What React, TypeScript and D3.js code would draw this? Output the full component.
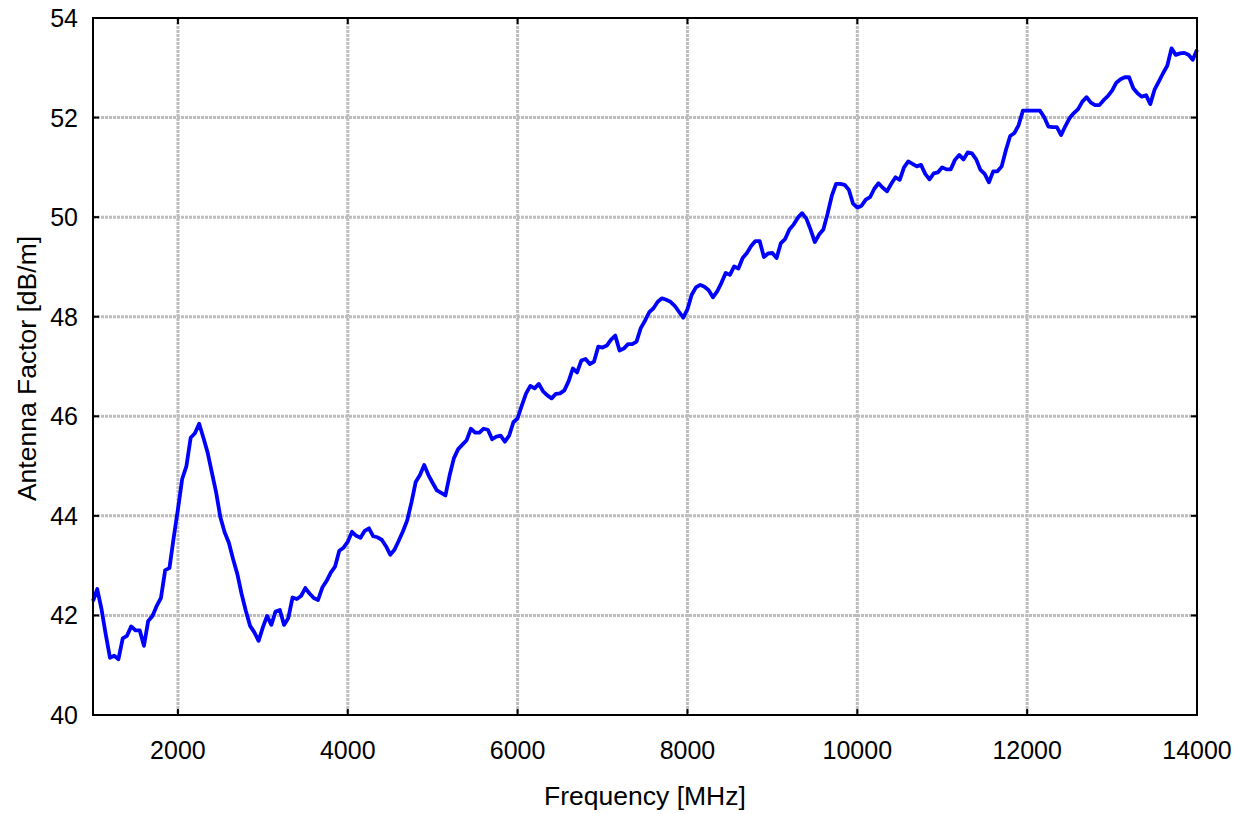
import { FC, useRef, useEffect } from 'react'
import * as d3 from 'd3'

// measured antenna factor, sampled every 50 MHz from 1000 to 14000 MHz
const freqStart = 1000
const freqStep = 50

const antennaFactor = [
  42.29, 42.53, 42.13, 41.62, 41.15, 41.19, 41.12, 41.54, 41.59, 41.78,
  41.70, 41.70, 41.39, 41.89, 41.99, 42.19, 42.35, 42.91, 42.95, 43.56,
  44.13, 44.74, 45.00, 45.57, 45.66, 45.85, 45.57, 45.27, 44.87, 44.47,
  43.97, 43.67, 43.46, 43.13, 42.83, 42.43, 42.09, 41.79, 41.66, 41.49,
  41.76, 41.99, 41.81, 42.08, 42.11, 41.81, 41.95, 42.36, 42.33, 42.39,
  42.55, 42.44, 42.35, 42.31, 42.56, 42.69, 42.86, 42.98, 43.30, 43.36,
  43.48, 43.68, 43.60, 43.56, 43.70, 43.75, 43.59, 43.57, 43.52, 43.39,
  43.22, 43.32, 43.50, 43.69, 43.91, 44.27, 44.68, 44.82, 45.02, 44.82,
  44.66, 44.51, 44.46, 44.41, 44.82, 45.16, 45.34, 45.43, 45.52, 45.75,
  45.67, 45.67, 45.75, 45.73, 45.54, 45.59, 45.61, 45.49, 45.61, 45.88,
  45.96, 46.22, 46.46, 46.61, 46.56, 46.65, 46.50, 46.42, 46.36, 46.45,
  46.46, 46.52, 46.70, 46.96, 46.88, 47.12, 47.15, 47.05, 47.10, 47.40,
  47.38, 47.42, 47.54, 47.62, 47.32, 47.36, 47.45, 47.45, 47.50, 47.77,
  47.92, 48.09, 48.17, 48.30, 48.37, 48.34, 48.30, 48.22, 48.10, 47.98,
  48.15, 48.44, 48.59, 48.64, 48.60, 48.53, 48.39, 48.51, 48.68, 48.88,
  48.84, 49.01, 48.97, 49.18, 49.28, 49.42, 49.52, 49.52, 49.20, 49.27,
  49.28, 49.18, 49.48, 49.56, 49.75, 49.85, 49.99, 50.08, 49.97, 49.75,
  49.50, 49.65, 49.75, 50.07, 50.43, 50.67, 50.67, 50.65, 50.55, 50.27,
  50.19, 50.23, 50.35, 50.40, 50.57, 50.68, 50.59, 50.52, 50.67, 50.80,
  50.75, 51.00, 51.12, 51.07, 51.02, 51.05, 50.87, 50.76, 50.88, 50.90,
  51.00, 50.96, 50.96, 51.15, 51.25, 51.16, 51.30, 51.28, 51.16, 50.95,
  50.87, 50.70, 50.92, 50.92, 51.02, 51.35, 51.63, 51.69, 51.85, 52.14,
  52.14, 52.14, 52.14, 52.14, 52.01, 51.82, 51.81, 51.81, 51.65, 51.83,
  51.99, 52.09, 52.17, 52.32, 52.41, 52.30, 52.25, 52.25, 52.35, 52.43,
  52.54, 52.70, 52.77, 52.81, 52.81, 52.59, 52.49, 52.42, 52.45, 52.27,
  52.56, 52.72, 52.89, 53.04, 53.39, 53.26, 53.29, 53.30, 53.26, 53.16,
  53.36,
]

const xTicks = [2000, 4000, 6000, 8000, 10000, 12000, 14000]
const yTicks = [40, 42, 44, 46, 48, 50, 52, 54]

const W = 1244
const H = 814
const margin = { top: 18, right: 47, bottom: 99, left: 93 }

const AntennaChart: FC = () => {
  const svgRef = useRef<SVGSVGElement>(null)

  useEffect(() => {
    if (!svgRef.current) return
    const svg = d3.select(svgRef.current)
    svg.selectAll('*').remove()

    const innerW = W - margin.left - margin.right
    const innerH = H - margin.top - margin.bottom
    const font = '"Liberation Sans", Arial, sans-serif'

    const x = d3.scaleLinear().domain([1000, 14000]).range([0, innerW])
    const y = d3.scaleLinear().domain([40, 54]).range([innerH, 0])

    const g = svg.append('g')
      .attr('transform', `translate(${margin.left},${margin.top})`)

    // dotted grid
    g.append('g').selectAll('line')
      .data(xTicks.filter(t => t < 14000))
      .join('line')
      .attr('x1', d => x(d)).attr('x2', d => x(d))
      .attr('y1', 0).attr('y2', innerH)
      .attr('stroke', '#bdbdbd').attr('stroke-width', 3)
      .attr('stroke-dasharray', '3,1')

    g.append('g').selectAll('line')
      .data(yTicks.filter(t => t > 40 && t < 54))
      .join('line')
      .attr('x1', 0).attr('x2', innerW)
      .attr('y1', d => y(d)).attr('y2', d => y(d))
      .attr('stroke', '#bdbdbd').attr('stroke-width', 3)
      .attr('stroke-dasharray', '3,1')

    // data line
    const pts = antennaFactor.map((v, i) => [freqStart + i * freqStep, v] as [number, number])
    const line = d3.line<[number, number]>()
      .x(d => x(d[0]))
      .y(d => y(d[1]))

    g.append('path')
      .datum(pts)
      .attr('d', line)
      .attr('fill', 'none')
      .attr('stroke', '#0000ff')
      .attr('stroke-width', 3.8)
      .attr('stroke-linejoin', 'round')

    // frame
    g.append('rect')
      .attr('width', innerW).attr('height', innerH)
      .attr('fill', 'none').attr('stroke', '#000').attr('stroke-width', 2)

    // inward ticks on all sides
    const tl = 6
    g.append('g').selectAll('line')
      .data(xTicks)
      .join('line')
      .attr('x1', d => x(d)).attr('x2', d => x(d))
      .attr('y1', innerH).attr('y2', innerH - tl)
      .attr('stroke', '#000').attr('stroke-width', 2)
    g.append('g').selectAll('line')
      .data(xTicks)
      .join('line')
      .attr('x1', d => x(d)).attr('x2', d => x(d))
      .attr('y1', 0).attr('y2', tl)
      .attr('stroke', '#000').attr('stroke-width', 2)
    g.append('g').selectAll('line')
      .data(yTicks)
      .join('line')
      .attr('x1', 0).attr('x2', tl)
      .attr('y1', d => y(d)).attr('y2', d => y(d))
      .attr('stroke', '#000').attr('stroke-width', 2)
    g.append('g').selectAll('line')
      .data(yTicks)
      .join('line')
      .attr('x1', innerW).attr('x2', innerW - tl)
      .attr('y1', d => y(d)).attr('y2', d => y(d))
      .attr('stroke', '#000').attr('stroke-width', 2)

    // tick labels
    g.append('g').selectAll('text')
      .data(xTicks)
      .join('text')
      .attr('x', d => x(d))
      .attr('y', innerH + 44)
      .attr('text-anchor', 'middle')
      .attr('font-family', font)
      .attr('font-size', 25)
      .attr('fill', '#000')
      .text(d => String(d))

    g.append('g').selectAll('text')
      .data(yTicks)
      .join('text')
      .attr('x', -15)
      .attr('y', d => y(d))
      .attr('dy', '0.36em')
      .attr('text-anchor', 'end')
      .attr('font-family', font)
      .attr('font-size', 25)
      .attr('fill', '#000')
      .text(d => String(d))

    // axis titles
    svg.append('text')
      .attr('x', margin.left + innerW / 2)
      .attr('y', 805)
      .attr('text-anchor', 'middle')
      .attr('font-family', font)
      .attr('font-size', 26.5)
      .attr('fill', '#000')
      .text('Frequency [MHz]')

    svg.append('text')
      .attr('transform', `translate(36,${margin.top + innerH / 2 + 2}) rotate(-90)`)
      .attr('text-anchor', 'middle')
      .attr('font-family', font)
      .attr('font-size', 26.5)
      .attr('fill', '#000')
      .text('Antenna Factor [dB/m]')
  }, [])

  return <svg ref={svgRef} width={W} height={H} style={{ display: 'block', background: '#fff' }} />
}

export default function App() {
  return (
    <div style={{ position: 'absolute', left: 0, top: 0 }}>
      <AntennaChart />
    </div>
  )
}
